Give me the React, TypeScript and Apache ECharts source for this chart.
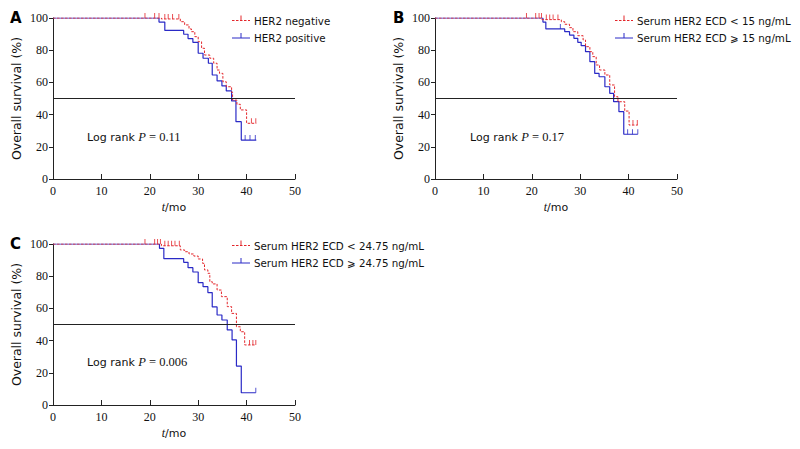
import React, { useEffect, useRef } from 'react';
import * as echarts from 'echarts';

// ---------- axis specs ----------
const X_MIN = 0, X_MAX = 50, X_STEP = 10;
const Y_MIN = 0, Y_MAX = 100, Y_STEP = 20;
const MEDIAN_LINE = 50;

// ---------- Panel A ----------
const aPosTime = [0, 21.9, 23.1, 27.0, 27.9, 28.9, 30.0, 31.0, 32.1, 32.9, 33.9, 34.9, 35.8, 36.9, 37.8, 38.9, 42.0];
const aPosSurv = [100, 97.5, 92.3, 89.9, 87.2, 84.9, 78.1, 75.0, 71.9, 64.6, 60.9, 57.8, 54.7, 48.5, 35.6, 24.2, 24.2];
const aPosCensor: [number, number][] = [[39.7, 24.2], [40.7, 24.2], [41.8, 24.2]];
const aNegTime = [0, 22.4, 26.3, 27.2, 28.1, 28.6, 29.3, 30.0, 30.7, 31.3, 32.4, 33.2, 33.9, 34.4, 35.1, 35.8, 36.9, 37.1, 38.0, 38.7, 40.0, 42.0];
const aNegSurv = [100, 99.4, 97.7, 95.7, 93.2, 91.5, 88.4, 85.3, 81.2, 77.0, 75.0, 71.9, 67.7, 65.6, 60.4, 57.3, 53.8, 49.0, 46.4, 42.9, 34.6, 34.6];
const aNegCensor: [number, number][] = [[19.0, 100], [21.0, 100], [21.9, 100], [23.1, 99.4], [23.8, 99.4], [24.7, 99.4], [26.0, 99.4], [41.0, 34.6], [41.9, 34.6]];

// ---------- Panel B ----------
const bHighTime = [0, 22.3, 22.9, 26.8, 27.8, 28.7, 29.5, 30.2, 31.1, 32.0, 33.0, 33.9, 35.1, 36.1, 36.9, 38.0, 39.0, 41.9];
const bHighSurv = [100, 97.5, 93.2, 91.5, 89.4, 87.4, 84.9, 82.8, 79.1, 72.9, 65.6, 63.5, 57.3, 53.2, 48.0, 41.8, 27.8, 27.8];
const bHighCensor: [number, number][] = [[25.9, 93.2], [39.8, 27.8], [40.8, 27.8], [41.9, 27.8]];
const bLowTime = [0, 22.1, 26.1, 26.8, 27.8, 28.5, 29.5, 30.6, 31.1, 32.0, 32.6, 33.3, 34.0, 35.1, 36.1, 37.1, 37.8, 39.2, 40.1, 41.9];
const bLowSurv = [100, 99.0, 97.7, 96.1, 94.0, 91.5, 89.0, 86.3, 82.2, 79.1, 76.0, 70.8, 67.7, 64.6, 58.4, 51.1, 48.0, 42.2, 33.5, 33.5];
const bLowCensor: [number, number][] = [[18.9, 100], [20.8, 100], [21.5, 100], [22.0, 100], [23.0, 99.0], [23.7, 99.0], [24.4, 99.0], [25.4, 99.0], [40.9, 33.5], [41.8, 33.5]];

// ---------- Panel C ----------
const cHighTime = [0, 22.0, 22.9, 27.0, 27.9, 28.9, 30.0, 31.0, 32.0, 32.9, 33.9, 34.9, 36.0, 37.0, 37.9, 38.9, 41.9];
const cHighSurv = [100, 97.3, 90.9, 88.6, 85.3, 82.6, 76.0, 73.5, 69.8, 60.9, 55.9, 52.8, 46.6, 40.4, 24.2, 7.6, 7.6];
const cHighCensor: [number, number][] = [[41.9, 7.6]];
const cLowTime = [0, 22.4, 26.3, 27.2, 28.1, 29.1, 30.0, 30.9, 31.3, 32.0, 32.4, 32.9, 33.9, 34.8, 36.0, 36.9, 37.9, 38.7, 39.6, 41.9];
const cLowSurv = [100, 98.9, 96.3, 95.2, 93.8, 92.5, 90.7, 88.0, 83.9, 81.8, 76.6, 75.2, 71.4, 67.3, 61.1, 56.9, 48.6, 45.5, 37.3, 37.3];
const cLowCensor: [number, number][] = [[19.0, 100], [21.0, 100], [21.6, 100], [22.2, 100], [23.1, 98.9], [23.8, 98.9], [24.5, 98.9], [25.2, 98.9], [26.1, 98.9], [40.6, 37.3], [41.3, 37.3], [41.9, 37.3]];

// ---------- labels ----------
const panelLetters = ['A', 'B', 'C'];
const legendLow = ['HER2 negative', 'Serum HER2 ECD < 15 ng/mL', 'Serum HER2 ECD < 24.75 ng/mL'];
const legendHigh = ['HER2 positive', 'Serum HER2 ECD \u2A7E 15 ng/mL', 'Serum HER2 ECD \u2A7E 24.75 ng/mL'];
const logRankP = ['0.11', '0.17', '0.006'];
const yAxisName = 'Overall survival (%)';

const RED = '#e3262b';
const BLUE = '#2a2ac6';
const AXIS = '#222222';
const SANS = '"DejaVu Sans", Verdana, sans-serif';
const SERIF = '"Liberation Serif", "Times New Roman", serif';

const zip = (t: number[], s: number[]) => t.map((v, i) => [v, s[i]]);

const grids = [
  { left: 53, top: 18, width: 242, height: 161 },
  { left: 435, top: 18, width: 242, height: 161 },
  { left: 53, top: 244, width: 242, height: 161 },
];

const panels = [
  { low: zip(aNegTime, aNegSurv), lowC: aNegCensor, high: zip(aPosTime, aPosSurv), highC: aPosCensor },
  { low: zip(bLowTime, bLowSurv), lowC: bLowCensor, high: zip(bHighTime, bHighSurv), highC: bHighCensor },
  { low: zip(cLowTime, cLowSurv), lowC: cLowCensor, high: zip(cHighTime, cHighSurv), highC: cHighCensor },
];

function buildOption() {
  const xAxis = grids.map((_, i) => ({
    type: 'value', gridIndex: i, min: X_MIN, max: X_MAX, interval: X_STEP,
    name: '{i|t}{n|/mo}', nameLocation: 'middle', nameGap: 22,
    nameTextStyle: { rich: {
      i: { fontFamily: SERIF, fontStyle: 'italic', fontSize: 12, color: '#111' },
      n: { fontFamily: SANS, fontSize: 11, color: '#111' },
    } },
    axisLine: { show: true, lineStyle: { color: AXIS, width: 1 } },
    axisTick: { show: true, inside: true, length: 5, lineStyle: { color: AXIS } },
    axisLabel: { fontFamily: SERIF, fontSize: 12, color: '#111', margin: 6 },
    splitLine: { show: false },
  }));
  const yAxis = grids.map((_, i) => ({
    type: 'value', gridIndex: i, min: Y_MIN, max: Y_MAX, interval: Y_STEP,
    name: yAxisName, nameLocation: 'middle', nameGap: 30,
    nameTextStyle: { fontFamily: SANS, fontSize: 12.5, color: '#111' },
    axisLine: { show: true, lineStyle: { color: AXIS, width: 1 } },
    axisTick: { show: true, inside: false, length: 4, lineStyle: { color: AXIS } },
    axisLabel: { fontFamily: SERIF, fontSize: 12, color: '#111', margin: 5 },
    splitLine: { show: false },
  }));

  const series: any[] = [];
  panels.forEach((p, i) => {
    series.push({
      type: 'line', xAxisIndex: i, yAxisIndex: i, step: 'end', data: p.high, symbol: 'none',
      lineStyle: { color: BLUE, width: 1.2 },
      markLine: {
        silent: true, symbol: ['none', 'none'], label: { show: false },
        lineStyle: { color: AXIS, type: 'solid', width: 1 },
        data: [{ yAxis: MEDIAN_LINE }],
      },
      z: 3,
    });
    series.push({
      type: 'line', xAxisIndex: i, yAxisIndex: i, step: 'end', data: p.low, symbol: 'none',
      lineStyle: { color: RED, width: 1, type: [2.5, 1.5] }, z: 4,
    });
    series.push({
      type: 'scatter', xAxisIndex: i, yAxisIndex: i, data: p.highC, symbol: 'rect',
      symbolSize: [1, 5], symbolOffset: [0, -2.5], itemStyle: { color: BLUE }, z: 5,
    });
    series.push({
      type: 'scatter', xAxisIndex: i, yAxisIndex: i, data: p.lowC, symbol: 'rect',
      symbolSize: [1, 5], symbolOffset: [0, -2.5], itemStyle: { color: RED }, z: 5,
    });
  });

  const graphic: any[] = [];
  const letterPos = [[10, 18], [393, 18], [10, 244]];
  panelLetters.forEach((L, i) => {
    graphic.push({
      type: 'text', x: letterPos[i][0], y: letterPos[i][1],
      style: { text: L, font: `bold 15px ${SANS}`, fill: '#000', verticalAlign: 'middle' },
    });
  });
  const logPos = [[87, 137], [470, 137], [87, 362]];
  logRankP.forEach((p, i) => {
    graphic.push({
      type: 'text', x: logPos[i][0], y: logPos[i][1],
      style: {
        text: `{a|Log rank }{p|P}{b| = ${p}}`, verticalAlign: 'middle',
        rich: {
          a: { fontFamily: SANS, fontSize: 11, fill: '#111' },
          p: { fontFamily: SERIF, fontStyle: 'italic', fontSize: 12.5, fill: '#111' },
          b: { fontFamily: SERIF, fontSize: 12.5, fill: '#111' },
        },
      },
    });
  });
  const legPos = [[232, 20.5], [615, 20.5], [232, 245.5]];
  const legendRow = (x: number, y: number, color: string, dashed: boolean, label: string) => ({
    type: 'group',
    children: [
      { type: 'line', shape: { x1: x, y1: y, x2: x + 18, y2: y }, style: { stroke: color, lineWidth: 1, lineDash: dashed ? [2.5, 1.5] : null } },
      { type: 'line', shape: { x1: x + 9, y1: y, x2: x + 9, y2: y - 5 }, style: { stroke: color, lineWidth: 1 } },
      { type: 'text', x: x + 22, y: y, style: { text: label, font: `10.3px ${SANS}`, fill: '#111', verticalAlign: 'middle' } },
    ],
  });
  legPos.forEach(([x, y], i) => {
    graphic.push(legendRow(x, y, RED, true, legendLow[i]));
    graphic.push(legendRow(x, y + 17.5, BLUE, false, legendHigh[i]));
  });

  return {
    animation: false,
    backgroundColor: '#ffffff',
    grid: grids,
    xAxis, yAxis, series, graphic,
  };
}

export default function App() {
  const ref = useRef<HTMLDivElement>(null);
  useEffect(() => {
    if (!ref.current) return;
    const chart = echarts.init(ref.current, undefined, { renderer: 'svg' });
    chart.setOption(buildOption() as any);
    return () => chart.dispose();
  }, []);
  return <div ref={ref} style={{ position: 'absolute', left: 0, top: 0, width: 800, height: 449 }} />;
}
